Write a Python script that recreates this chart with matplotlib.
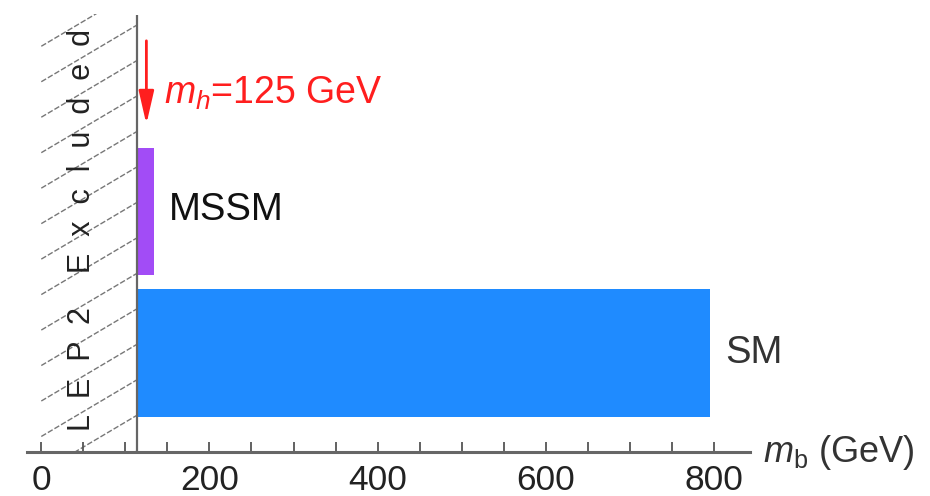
import matplotlib
matplotlib.use("Agg")
import matplotlib.pyplot as plt
import numpy as np
from matplotlib.patches import Rectangle, FancyArrowPatch
from matplotlib.ticker import MultipleLocator, FuncFormatter

plt.rcParams['font.family'] = ['Liberation Sans', 'DejaVu Sans']
plt.rcParams['mathtext.fontset'] = 'custom'
plt.rcParams['mathtext.rm'] = 'Liberation Sans'
plt.rcParams['mathtext.it'] = 'Liberation Sans:italic'

# Data
models = ['SM', 'MSSM']
mass_low = [114.4, 114.4]      # GeV, LEP2 bound
mass_high = [795, 134]         # GeV
bar_colors = ['#1F8BFF', '#A24CF6']
lep_limit = 114.4
higgs_mass = 125
tick_values = [0, 200, 400, 600, 800]

fig = plt.figure(figsize=(9.3, 4.96), dpi=100)
ax = fig.add_axes([27/930, 44/496, 723/930, 437/496])
ax.set_xlim(-17, 843)
ax.set_ylim(-0.70, 2.392)

ypos = np.arange(len(models))
ax.barh(ypos, np.array(mass_high) - np.array(mass_low), left=mass_low,
        height=0.9, color=bar_colors, zorder=2)

# hatched LEP2 excluded region
clip = Rectangle((0, -0.70), lep_limit, 3.1, transform=ax.transData,
                 facecolor='none', edgecolor='none')
ax.add_patch(clip)
slope = 0.003524
for k in range(-6, 16):
    y1 = 0.566 + k * 0.251
    y0 = y1 - lep_limit * slope
    ln, = ax.plot([0, lep_limit], [y0, y1], color='#777777', lw=1.0,
                  ls=(0, (4, 1.5)), zorder=1)
    ln.set_clip_path(clip)

ax.axvline(lep_limit, color='#666666', lw=1.6, zorder=3)

lep_label = '  '.join('LEP2').replace('2', '2 ') + '   ' + '  '.join('Excluded')
ax.text(48, 0.87, lep_label, rotation=90, ha='center',
        va='center', fontsize=22, color='#222222')

# arrow for Higgs mass
arr = FancyArrowPatch((higgs_mass, 2.229), (higgs_mass, 1.60),
                      arrowstyle='-|>,head_length=1.0,head_width=0.23',
                      mutation_scale=20, color='#FF1E1E', lw=2, zorder=4)
ax.add_patch(arr)
ax.text(146, 1.84, r'$m_h$=125 GeV', color='#FF1E1E', fontsize=27,
        ha='left', va='center')

ax.text(152, 1.012, models[1], fontsize=27.5, ha='left', va='center', color='#111111')
ax.text(813, 0.0, models[0], fontsize=27.5, ha='left', va='center', color='#333333')

# axes styling
for s in ['top', 'right', 'left']:
    ax.spines[s].set_visible(False)
ax.spines['bottom'].set_color('#666666')
ax.spines['bottom'].set_linewidth(2.2)
ax.set_yticks([])
ax.xaxis.set_major_locator(MultipleLocator(50))
ax.xaxis.set_major_formatter(FuncFormatter(
    lambda v, p: f'{int(round(v))}' if int(round(v)) in tick_values else ''))
ax.tick_params(axis='x', direction='in', length=7.5, width=1.3, color='#555555',
               labelsize=25.5, pad=9, labelcolor='#222222')

ax.text(859, -0.70, r'$m_{\mathrm{b}}$ (GeV)', fontsize=26, ha='left', va='center',
        color='#333333', clip_on=False)

fig.savefig('out.png', dpi=100)
